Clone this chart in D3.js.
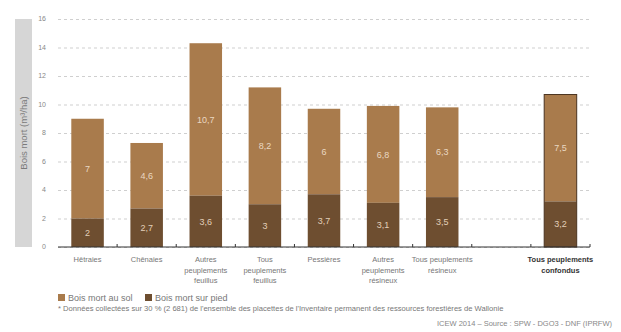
<!DOCTYPE html>
<html>
<head>
<meta charset="utf-8">
<script src="https://cdn.jsdelivr.net/npm/d3@7"></script>
<style>
  body { margin: 0; background: #fff; }
  svg { display: block; font-family: "Liberation Sans", Arial, sans-serif; }
</style>
</head>
<body>
<div id="chart"></div>
<script>
// Data
const categories = [
  ["Hêtraies"],
  ["Chênaies"],
  ["Autres", "peuplements", "feuillus"],
  ["Tous", "peuplements", "feuillus"],
  ["Pessières"],
  ["Autres", "peuplements", "résineux"],
  ["Tous peuplements", "résineux"],
  null, // empty slot
  ["Tous peuplements", "confondus"]
];
const surPied = [2, 2.7, 3.6, 3, 3.7, 3.1, 3.5, null, 3.2];
const auSol = [7, 4.6, 10.7, 8.2, 6, 6.8, 6.3, null, 7.5];
const yTicks = [0, 2, 4, 6, 8, 10, 12, 14, 16];

const W = 621, H = 332;
const margin = { top: 19, left: 58, right: 31, bottom: 85 };
const colSol = "#a97b4c";
const colPied = "#6e4e30";

const svg = d3.select("#chart").append("svg")
  .attr("width", W).attr("height", H);

const x = d3.scaleBand()
  .domain(d3.range(categories.length))
  .range([margin.left, W - margin.right])
  .paddingInner(0.45).paddingOuter(0.225);

const y = d3.scaleLinear()
  .domain([0, 16])
  .range([H - margin.bottom, margin.top]);

// y title band
svg.append("rect")
  .attr("x", 15).attr("y", y(16))
  .attr("width", 17).attr("height", y(0) - y(16))
  .attr("fill", "#d6d6d6");
svg.append("text")
  .attr("transform", `translate(26.5,${(y(0) + y(16)) / 2}) rotate(-90)`)
  .attr("text-anchor", "middle")
  .attr("font-size", 9.5)
  .attr("fill", "#7a7a7a")
  .text("Bois mort (m³/ha)");

// gridlines
svg.append("g")
  .attr("transform", `translate(${margin.left},0)`)
  .call(d3.axisLeft(y).tickValues(yTicks).tickSize(-(W - margin.left - margin.right)).tickFormat(""))
  .call(g => g.select(".domain").remove())
  .selectAll("line")
  .attr("stroke", "#cfcfcf")
  .attr("stroke-dasharray", "3,3");

// y tick labels
svg.append("g")
  .selectAll("text")
  .data(yTicks)
  .join("text")
  .attr("x", 46).attr("y", d => y(d))
  .attr("dy", "0.35em")
  .attr("text-anchor", "end")
  .attr("font-size", 7)
  .attr("fill", "#888")
  .text(d => d);

// bars
const rows = categories.map((c, i) => ({ i, c, pied: surPied[i], sol: auSol[i] }))
  .filter(d => d.c);

const g = svg.append("g").selectAll("g").data(rows).join("g");

g.append("rect")
  .attr("x", d => x(d.i)).attr("width", x.bandwidth())
  .attr("y", d => y(d.pied + d.sol))
  .attr("height", d => y(d.pied) - y(d.pied + d.sol))
  .attr("fill", colSol);

g.append("rect")
  .attr("x", d => x(d.i)).attr("width", x.bandwidth())
  .attr("y", d => y(d.pied))
  .attr("height", d => y(0) - y(d.pied))
  .attr("fill", colPied);

// outline on the total bar
g.filter(d => d.i === 8).append("rect")
  .attr("x", d => x(d.i)).attr("width", x.bandwidth())
  .attr("y", d => y(d.pied + d.sol))
  .attr("height", d => y(0) - y(d.pied + d.sol))
  .attr("fill", "none")
  .attr("stroke", "#4a3420")
  .attr("stroke-width", 1);

const fmt = v => String(v).replace(".", ",");

g.append("text")
  .attr("x", d => x(d.i) + x.bandwidth() / 2)
  .attr("y", d => y(d.pied / 2))
  .attr("dy", "0.35em")
  .attr("text-anchor", "middle")
  .attr("font-size", 9)
  .attr("fill", "#e2cfb8")
  .text(d => fmt(d.pied));

g.append("text")
  .attr("x", d => x(d.i) + x.bandwidth() / 2)
  .attr("y", d => y(d.pied + d.sol / 2))
  .attr("dy", "0.35em")
  .attr("text-anchor", "middle")
  .attr("font-size", 9)
  .attr("fill", "#ead8c2")
  .text(d => fmt(d.sol));

// x axis line and ticks at band boundaries
svg.append("line")
  .attr("x1", margin.left).attr("x2", W - margin.right)
  .attr("y1", y(0)).attr("y2", y(0))
  .attr("stroke", "#333").attr("stroke-width", 1);

const step = x.step();
svg.append("g").selectAll("line")
  .data(d3.range(1, categories.length + 1))
  .join("line")
  .attr("x1", d => margin.left + d * step).attr("x2", d => margin.left + d * step)
  .attr("y1", y(0) - 3).attr("y2", y(0))
  .attr("stroke", "#333");

// category labels
const lab = svg.append("g").selectAll("text").data(rows).join("text")
  .attr("text-anchor", "middle")
  .attr("font-size", 7.5)
  .attr("fill", d => d.i === 8 ? "#333" : "#777")
  .attr("font-weight", d => d.i === 8 ? "bold" : "normal");
lab.each(function (d) {
  const t = d3.select(this);
  d.c.forEach((line, k) => {
    t.append("tspan")
      .attr("x", x(d.i) + x.bandwidth() / 2)
      .attr("y", 262 + k * 10.7)
      .text(line);
  });
});

// legend
const legend = [
  { label: "Bois mort au sol", color: colSol, x: 58 },
  { label: "Bois mort sur pied", color: colPied, x: 145 }
];
const lg = svg.append("g").selectAll("g").data(legend).join("g")
  .attr("transform", d => `translate(${d.x},294)`);
lg.append("rect").attr("width", 7).attr("height", 7).attr("fill", d => d.color);
lg.append("text")
  .attr("x", 10).attr("y", 3.5).attr("dy", "0.35em")
  .attr("font-size", 9).attr("fill", "#777")
  .text(d => d.label);

// footnote and source
svg.append("text")
  .attr("x", 58).attr("y", 311)
  .attr("font-size", 7.6).attr("fill", "#777")
  .text("* Données collectées sur 30 % (2 681) de l'ensemble des placettes de l'Inventaire permanent des ressources forestières de Wallonie");

svg.append("text")
  .attr("x", 612).attr("y", 326)
  .attr("text-anchor", "end")
  .attr("font-size", 7.5).attr("fill", "#888")
  .text("ICEW 2014 – Source : SPW - DGO3 - DNF (IPRFW)");
</script>
</body>
</html>
